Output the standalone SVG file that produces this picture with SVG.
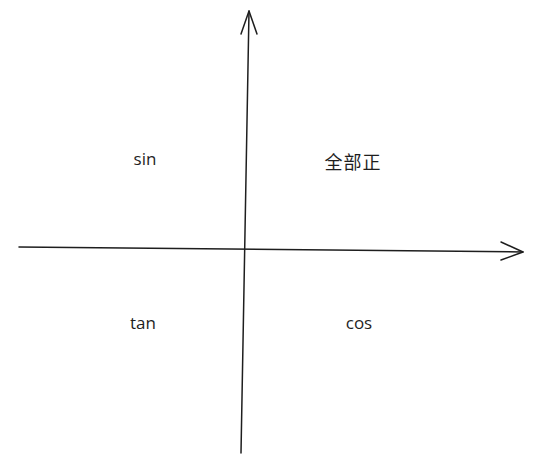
<svg xmlns="http://www.w3.org/2000/svg" width="555" height="467" viewBox="0 0 555 467">
<style>
.ax{fill:none;stroke:#1e1e1e;stroke-width:1.5;stroke-linecap:round;stroke-linejoin:round}
.t{font-family:"Open Sans","Noto Sans CJK SC",sans-serif;font-size:17px;fill:#1e1e1e;text-anchor:middle}
.c{font-size:18px;letter-spacing:1px}
</style>
<rect width="555" height="467" fill="#ffffff"/>
<g id="connectors">
<path class="ax" d="M241 453 L249 11"/>
<path class="ax" d="M241 34 L249 11 L257 34"/>
<path class="ax" d="M19 247 L523 252"/>
<path class="ax" d="M501 242 L523 252 L501 260"/>
</g>
<g id="sin"><text class="t" x="145" y="165">sin</text></g>
<g id="all"><text class="t c" x="353" y="169">全部正</text></g>
<g id="tan"><text class="t" x="143" y="329">tan</text></g>
<g id="cos"><text class="t" x="359" y="329">cos</text></g>
</svg>
